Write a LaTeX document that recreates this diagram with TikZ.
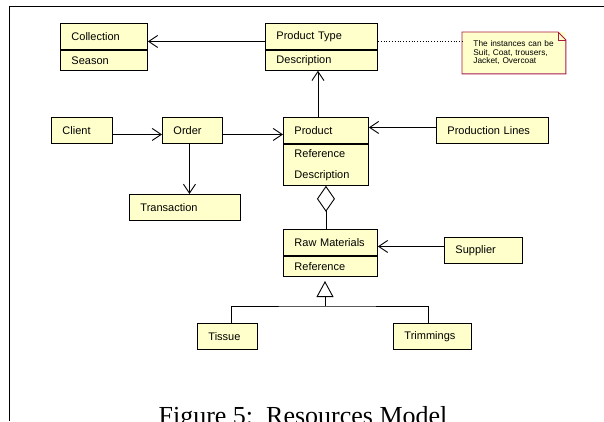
\documentclass[tikz,border=0pt]{standalone}
\usepackage{fontspec}
\setmainfont{Liberation Serif}
\newfontfamily\umlfont{Liberation Sans}
\usetikzlibrary{arrows.meta,positioning}
\definecolor{umlyellow}{RGB}{255,255,204}
\definecolor{notered}{RGB}{170,25,65}
\tikzset{
  umlbox/.style={draw, fill=umlyellow, line width=0.9pt, anchor=north west,
    inner xsep=11pt, inner ysep=0pt, align=left,
    font=\umlfont\fontsize{11}{13}\selectfont},
  assoc/.style={line width=0.9pt, -{Straight Barb[length=9pt,width=12pt]}},
}
\begin{document}
\begin{tikzpicture}[x=1pt,y=-1pt]
      \useasboundingbox (0,0) rectangle (604,421);
      \draw[line width=0.9pt] (604,6) -- (9,6) -- (9,421);
      % classes
      \node[umlbox, text width=65pt, minimum height=26pt] (collT) at (60,23) {Collection};
      \node[umlbox, text width=65pt, minimum height=20pt, below=0pt of collT] (collB) {Season};
      \node[umlbox, text width=90pt, minimum height=26pt] (ptypeT) at (265,23) {Product Type};
      \node[umlbox, text width=90pt, minimum height=20pt, below=0pt of ptypeT] (ptypeB) {Description};
      \node[umlbox, text width=39pt, minimum height=26pt] (client) at (51,117) {Client};
      \node[umlbox, text width=38pt, minimum height=26pt] (order) at (162,117) {Order};
      \node[umlbox, text width=63pt, minimum height=26pt] (prodT) at (283,117) {Product};
      \node[umlbox, text width=63pt, minimum height=41pt, below=0pt of prodT,
        font=\umlfont\fontsize{11}{21}\selectfont] (prodB) {Reference\\Description};
      \node[umlbox, text width=90pt, minimum height=26pt] (prodl) at (436,117) {Production Lines};
      \node[umlbox, text width=89pt, minimum height=26pt] (trans) at (129,194) {Transaction};
      \node[umlbox, text width=72pt, minimum height=26pt] (rawT) at (283,229) {Raw Materials};
      \node[umlbox, text width=72pt, minimum height=20pt, below=0pt of rawT] (rawB) {Reference};
      \node[umlbox, text width=56pt, minimum height=26pt] (supp) at (444,237) {Supplier};
      \node[umlbox, text width=38pt, minimum height=26pt] (tissue) at (197,323) {Tissue};
      \node[umlbox, text width=56pt, minimum height=26pt] (trim) at (393,323) {Trimmings};
      % note
      \node[umlbox, draw=none, text width=81pt, minimum height=41pt,
        font=\umlfont\fontsize{8.3}{8.5}\selectfont] (note) at (462,32)
        {The instances can be\\Suit, Coat, trousers,\\Jacket, Overcoat};
      \draw[notered, line width=0.9pt] (note.north west) -- ([xshift=-8pt]note.north east)
        -- ([yshift=-8pt]note.north east) -- (note.south east) -- (note.south west) -- cycle;
      \draw[notered, line width=0.7pt] ([xshift=-8pt]note.north east) -- ++(0,8) -- ++(8,0);
      \draw[line width=0.8pt, dotted] ([yshift=-5pt]ptypeT.east) -- ([yshift=-5pt]ptypeT.east -| note.west);
      % associations
      \draw[assoc] ([yshift=-5pt]ptypeT.west) -- ([yshift=-5pt]collT.east);
      \draw[assoc] ([xshift=-8pt]prodT.north) -- ([xshift=-8pt]prodT.north |- ptypeB.south);
      \draw[assoc] ([yshift=-4pt]client.east) -- ([yshift=-4pt]order.west);
      \draw[assoc] ([yshift=-4pt]order.east) -- ([yshift=-4pt]order.east -| prodT.west);
      \draw[assoc] ([yshift=3pt]prodl.west) -- ([yshift=3pt]prodl.west -| prodT.east);
      \draw[assoc] ([xshift=-3pt]order.south) -- ([xshift=-3pt]order.south |- trans.north);
      \draw[assoc] ([yshift=4pt]supp.west) -- ([yshift=4pt]supp.west -| rawT.east);
      % aggregation and generalization
      \draw[line width=0.9pt, -{Diamond[open,length=26pt,width=18pt]}] (prodB.south |- rawT.north) -- (prodB.south);
      \coordinate (gen) at (325,306);
      \coordinate (gentip) at (325,281);
      \draw[line width=0.9pt, -{Triangle[open,length=16pt,width=17pt]}] (gen) -- (gentip);
      \draw[line width=0.9pt] ([xshift=4pt]tissue.north) |- (gen) -| ([xshift=-4pt]trim.north);
      % caption
      \node[anchor=base, font=\fontsize{26}{30}\selectfont] (caption) at (303,424) {Figure 5:\ \ Resources Model};
\end{tikzpicture}
\end{document}
